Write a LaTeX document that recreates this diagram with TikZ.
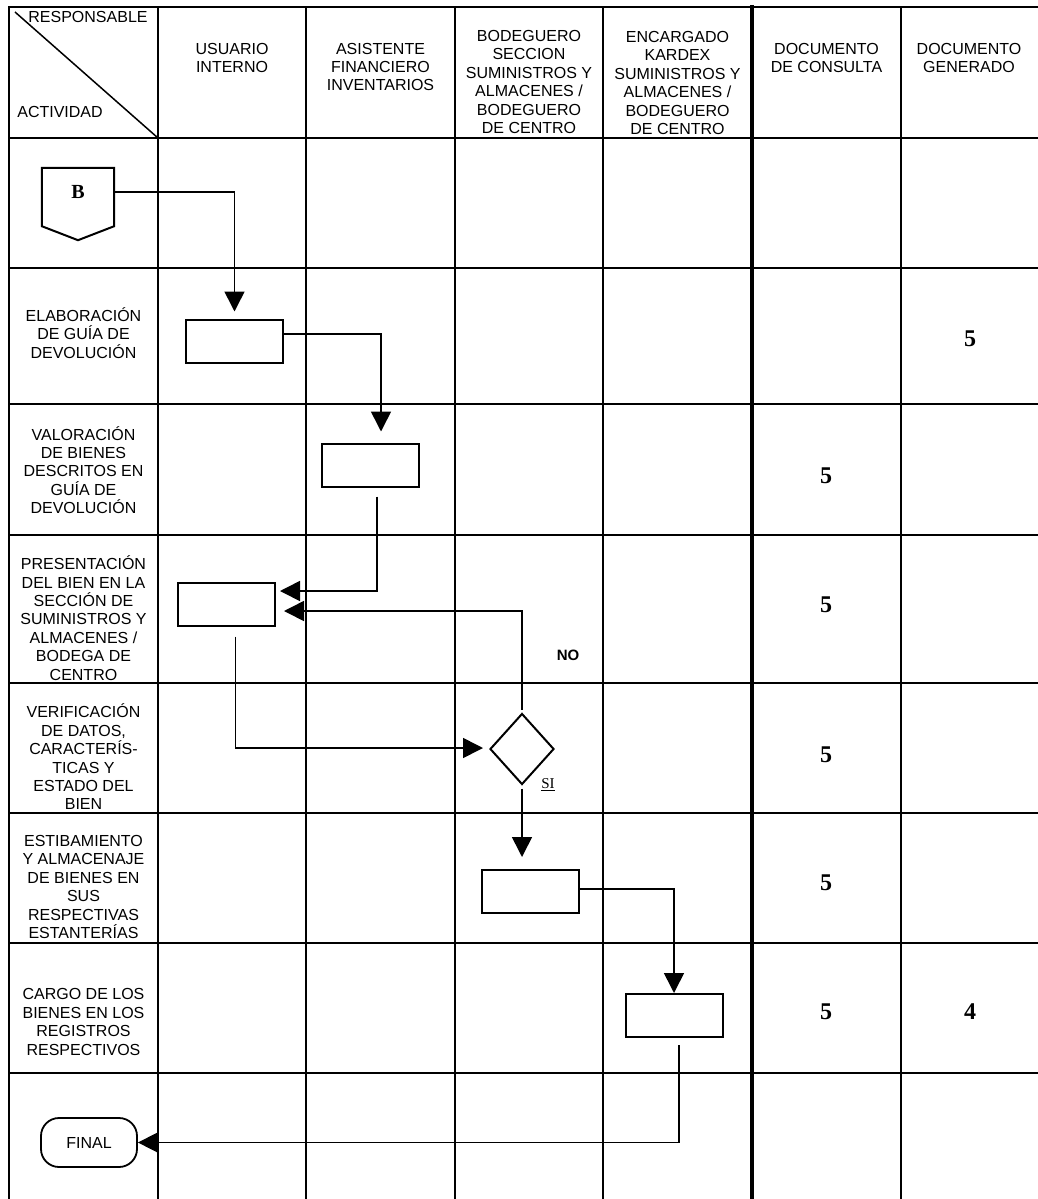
\documentclass[tikz,border=0pt]{standalone}
\usepackage{fontspec}
\setmainfont{Liberation Sans}
\newfontfamily\serifnum{Liberation Serif}
\usetikzlibrary{arrows.meta,shapes.geometric,calc}
\begin{document}
\begin{tikzpicture}[x=1pt,y=-1pt,
  grid/.style={line width=2.6pt, line cap=rect},
  thickgrid/.style={line width=4.5pt, line cap=rect},
  lbl/.style={font=\fontsize{16}{18.4}\selectfont, align=center, inner sep=0pt},
  proc/.style={draw, line width=2pt, minimum width=97pt, minimum height=43pt, inner sep=0pt},
  dec/.style={draw, diamond, line width=2pt, minimum width=64pt, minimum height=71pt, inner sep=0pt},
  term/.style={draw, line width=1.8pt, rounded corners=18pt, minimum width=96pt, minimum height=49pt, inner sep=0pt, font=\fontsize{16}{18}\selectfont},
  flow/.style={line width=1.6pt, -{Triangle[length=20pt,width=20pt]}},
  num/.style={font=\serifnum\bfseries\fontsize{24}{24}\selectfont, inner sep=0pt}
]
\useasboundingbox (0,0) rectangle (1037,1199);
% grid
\draw[grid] (9,7) -- (1037,7);
\foreach \yy in {138,268,404,535,683,813,943,1073} {\draw[grid] (9,\yy) -- (1037,\yy);}
\foreach \xx in {9,158,306,455,603,901} {\draw[grid] (\xx,7) -- (\xx,1199);}
\draw[thickgrid] (752,7) -- (752,1199);
\draw[line width=1.5pt] (15,12) -- (158,138);
% header
\node[lbl] (hresp) at (88,17) {RESPONSABLE};
\node[lbl] (hact) at (60,112) {ACTIVIDAD};
\node[lbl] (husu) at (232,58) {USUARIO\\INTERNO};
\node[lbl] (hasi) at (380.5,67) {ASISTENTE\\FINANCIERO\\INVENTARIOS};
\node[lbl] (hbod) at (529,82) {BODEGUERO\\SECCION\\SUMINISTROS Y\\ALMACENES /\\BODEGUERO\\DE CENTRO};
\node[lbl] (henc) at (677.5,83) {ENCARGADO\\KARDEX\\SUMINISTROS Y\\ALMACENES /\\BODEGUERO\\DE CENTRO};
\node[lbl] (hcon) at (826.5,58) {DOCUMENTO\\DE CONSULTA};
\node[lbl] (hgen) at (969,58) {DOCUMENTO\\GENERADO};
% activities
\node[lbl] (a2) at (83.5,333) {ELABORACIÓN\\DE GUÍA DE\\DEVOLUCIÓN};
\node[lbl] (a3) at (83.5,470) {VALORACIÓN\\DE BIENES\\DESCRITOS EN\\GUÍA DE\\DEVOLUCIÓN};
\node[lbl] (a4) at (83.5,618) {PRESENTACIÓN\\DEL BIEN EN LA\\SECCIÓN DE\\SUMINISTROS Y\\ALMACENES /\\BODEGA DE\\CENTRO};
\node[lbl] (a5) at (83.5,757) {VERIFICACIÓN\\DE DATOS,\\CARACTERÍS-\\TICAS Y\\ESTADO DEL\\BIEN};
\node[lbl] (a6) at (83.5,887) {ESTIBAMIENTO\\Y ALMACENAJE\\DE BIENES EN\\SUS\\RESPECTIVAS\\ESTANTERÍAS};
\node[lbl] (a7) at (83.5,1022) {CARGO DE LOS\\BIENES EN LOS\\REGISTROS\\RESPECTIVOS};
% numbers
\node[num] (g2) at (970,339) {5};
\node[num] (c3) at (826,476) {5};
\node[num] (c4) at (826,605) {5};
\node[num] (c5) at (826,755) {5};
\node[num] (c6) at (826,883) {5};
\node[num] (c7) at (826,1012) {5};
\node[num] (g7) at (970,1012) {4};
% shapes
\node[minimum width=72pt, minimum height=48pt, inner sep=0pt, font=\serifnum\bfseries\fontsize{20}{20}\selectfont] (B) at (78,192) {B};
\draw[line width=2pt, line join=miter] (B.north west) -- (B.north east) -- ($(B.south east)+(0,10)$) -- ($(B.south)+(0,24)$) -- ($(B.south west)+(0,10)$) -- cycle;
\node[proc] (r1) at (234.5,341) {};
\node[proc] (r2) at (370.5,465) {};
\node[proc] (r3) at (226.5,604) {};
\node[dec] (d) at (522,749) {};
\node[proc] (r4) at (530,891.5) {};
\node[proc] (r5) at (674,1015.5) {};
\node[term] (fin) at (89,1142.5) {FINAL};
\node[font=\bfseries\fontsize{15}{15}\selectfont, inner sep=0pt] (no) at (568,655) {NO};
\node[font=\serifnum\fontsize{15}{15}\selectfont, inner sep=0pt] (si) at (548,785) {\underline{SI}};
% connectors
\draw[flow, shorten >=7pt] (B.east) -| (r1.north);
\draw[flow, shorten >=11pt] ([yshift=7pt]r1.east) -| ([xshift=10.5pt]r2.north);
\draw[flow, shorten <=9pt, shorten >=4pt] ([xshift=6.5pt]r2.south) |- ([yshift=13pt]r3.east);
\draw[flow, shorten <=3pt, shorten >=8pt] (d.north) |- ([yshift=-7pt]r3.east);
\draw[flow, shorten <=10pt, shorten >=6pt] ([xshift=9pt]r3.south) |- ([yshift=1pt]d.west);
\draw[flow, shorten <=3pt, shorten >=12pt] (d.south) -- ([xshift=-8pt]r4.north);
\draw[flow] ([yshift=2.5pt]r4.east) -| (r5.north);
\draw[flow, shorten <=7pt] ([xshift=5pt]r5.south) |- (fin.east);
\end{tikzpicture}
\end{document}
